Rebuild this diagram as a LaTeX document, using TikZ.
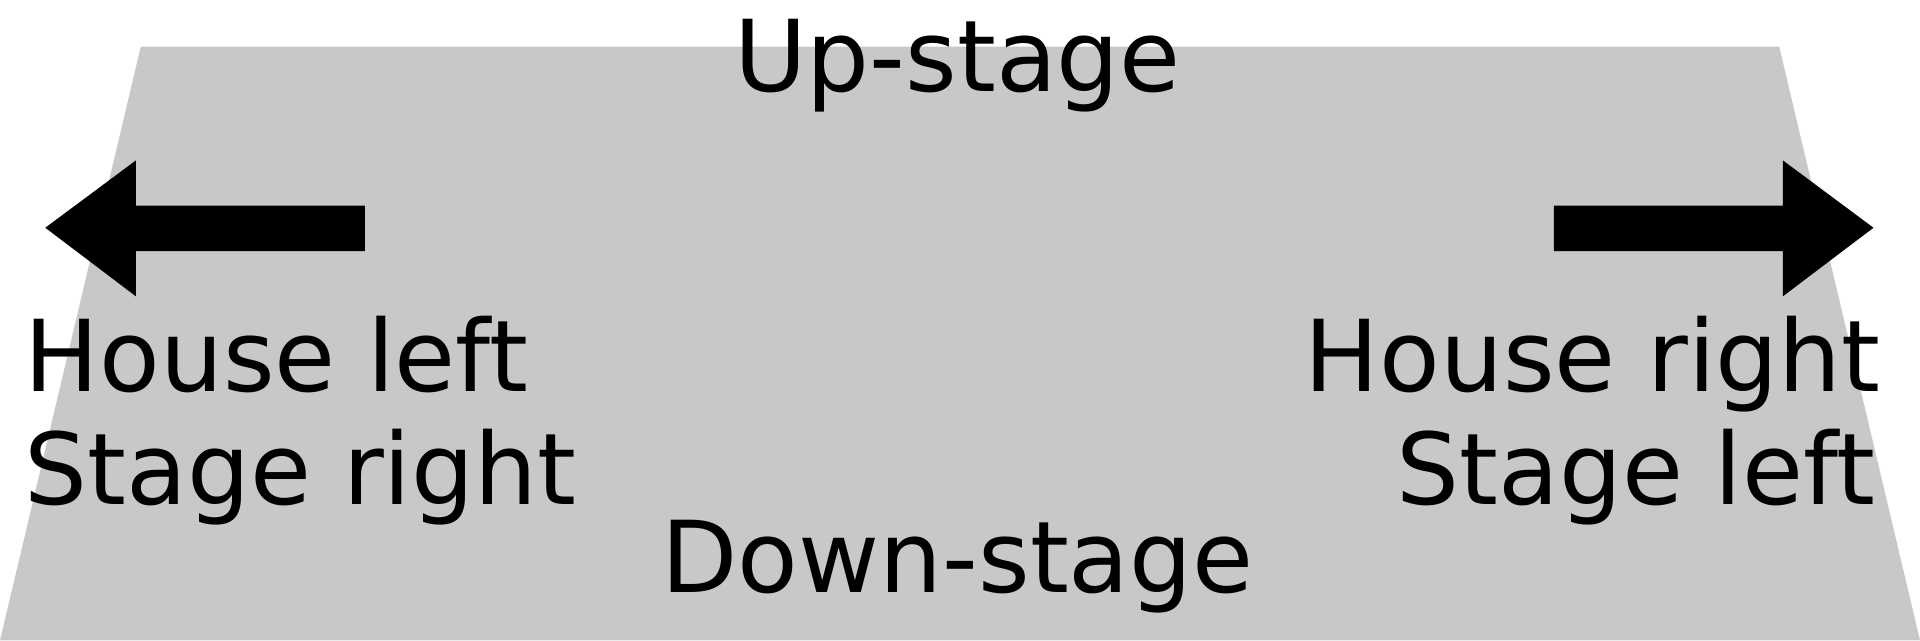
\documentclass[tikz,border=0pt]{standalone}
\usepackage{fontspec}
\setmainfont{DejaVu Sans}
\definecolor{stagegray}{HTML}{C8C8C8}
\begin{document}
\begin{tikzpicture}[x=0.5pt,y=-0.5pt,
  lbl/.style={inner sep=0pt,font=\fontsize{40.5}{46}\selectfont},
  arr/.style={fill=black,draw=none}]
\useasboundingbox (0,0) rectangle (1568,523);
\fill[stagegray] (115,38) -- (1453,38) -- (1568,523) -- (0,523) -- cycle;
\fill[arr] (37,186) -- (111,131) -- (111,168) -- (298,168) -- (298,205) -- (111,205) -- (111,242) -- cycle;
\fill[arr] (1530,186) -- (1456,131) -- (1456,168) -- (1269,168) -- (1269,205) -- (1456,205) -- (1456,242) -- cycle;
\node[lbl,anchor=base] (up) at (782,75) {Up-stage};
\node[lbl,anchor=base west] (hl) at (20,320) {House left};
\node[lbl,anchor=base west] (sr) at (20,412) {Stage right};
\node[lbl,anchor=base east] (hr) at (1536,320) {House right};
\node[lbl,anchor=base east] (sl) at (1532,412) {Stage left};
\node[lbl,anchor=base] (down) at (782,484) {Down-stage};
\end{tikzpicture}
\end{document}
